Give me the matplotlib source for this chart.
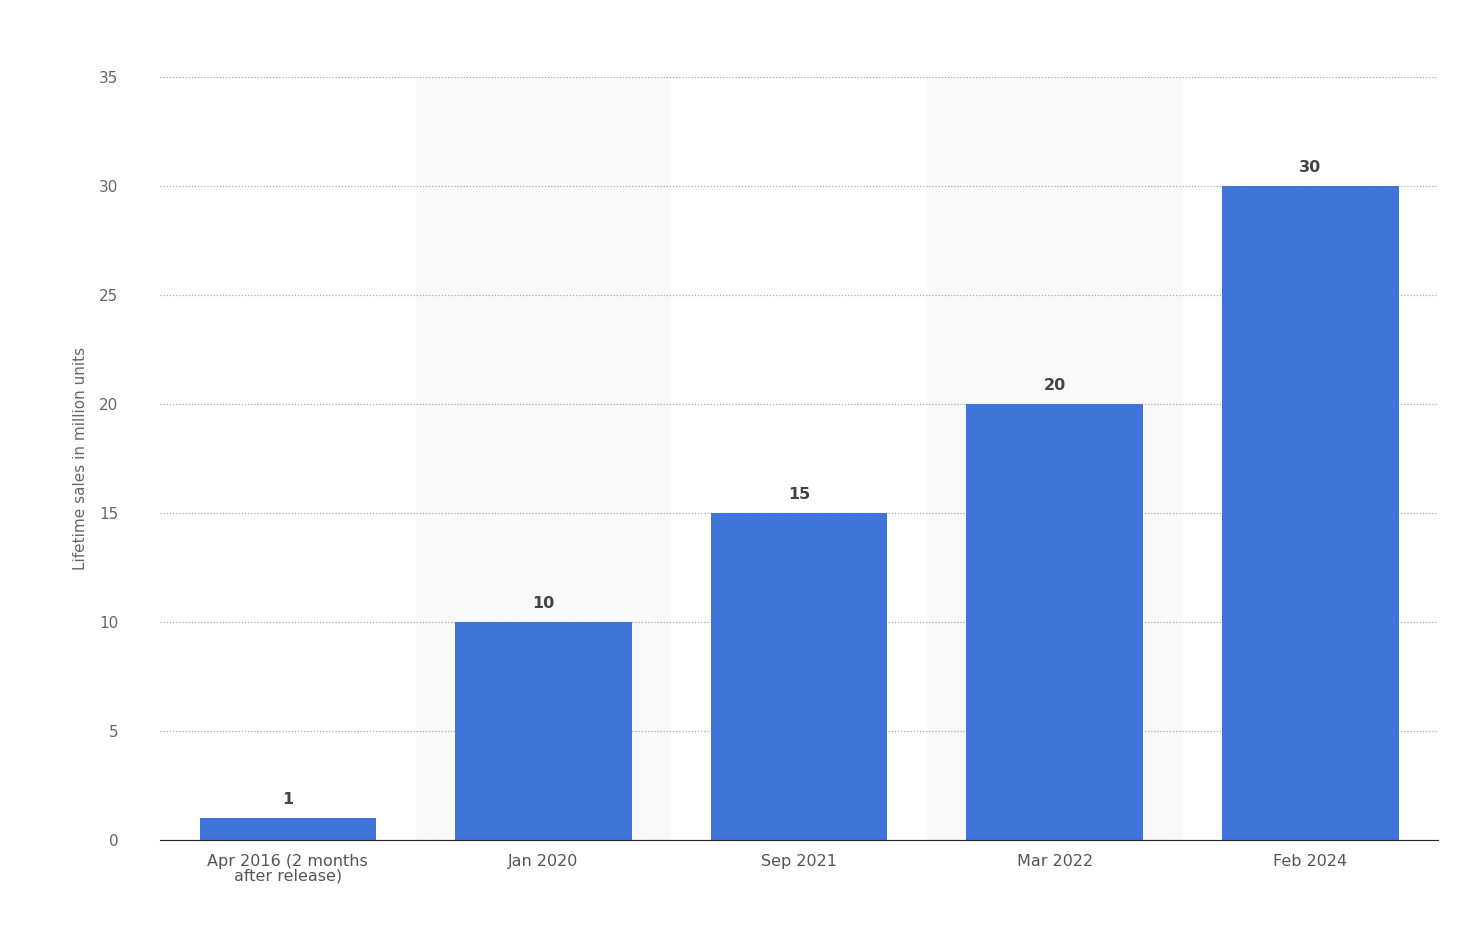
import matplotlib
matplotlib.use("Agg")
import matplotlib.pyplot as plt

categories = ["Apr 2016 (2 months\nafter release)", "Jan 2020", "Sep 2021", "Mar 2022", "Feb 2024"]
values = [1, 10, 15, 20, 30]
yticks = [0, 5, 10, 15, 20, 25, 30, 35]

plt.rcParams['font.family'] = ['DejaVu Sans']
fig = plt.figure(figsize=(14.66, 9.26), dpi=100)
ax = fig.add_axes([0.1091, 0.0929, 0.981 - 0.1091, 0.9168 - 0.0929])
x = list(range(len(categories)))
for i in x:
    if i % 2 == 1:
        ax.axvspan(i - 0.5, i + 0.5, color="#f9f9f9", zorder=0, lw=0)
ax.bar(x, values, width=0.69, color="#3f74d8", zorder=3)
for i, v in zip(x, values):
    ax.text(i, v + 0.5, str(v), ha="center", va="bottom", fontsize=11.5,
            fontweight="bold", color="#444444", zorder=4)
ax.set_xlim(-0.5, len(categories) - 0.5)
ax.set_ylim(0, 35)
ax.set_yticks(yticks)
ax.set_xticks(x)
ax.set_xticklabels(categories, fontsize=11.5, color="#555555", linespacing=1.0)
ax.tick_params(axis="y", labelsize=11, colors="#666666", length=0, pad=30)
ax.tick_params(axis="x", length=0, pad=10)
ax.grid(axis="y", linestyle=(0, (1, 1.5)), color="#aaaaaa", linewidth=0.9, zorder=1)
for s in ["top", "right", "left"]:
    ax.spines[s].set_visible(False)
ax.spines["bottom"].set_color("#222222")
ax.spines["bottom"].set_zorder(5)
ax.set_ylabel("Lifetime sales in million units", fontsize=11, color="#666666", labelpad=8)
fig.savefig("out.png", dpi=100)
